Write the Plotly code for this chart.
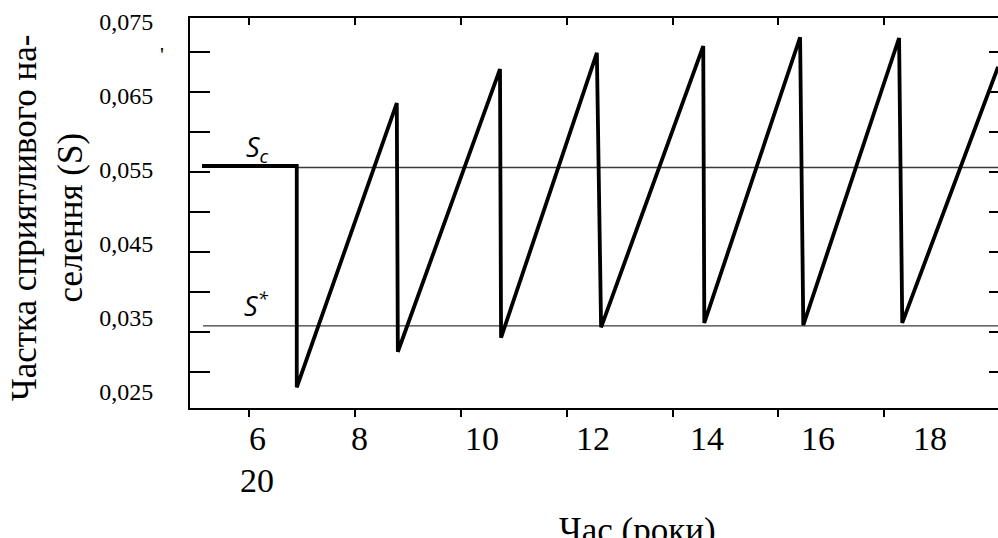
import plotly.graph_objects as go

# ---- data ----
time_years = [5.11, 6.90, 6.90, 8.79, 8.81, 10.74, 10.76, 12.57, 12.65, 14.58, 14.60, 16.41, 16.47, 18.28, 18.34, 20.15]
share_s = [0.0555, 0.0555, 0.0256, 0.0640, 0.0304, 0.0686, 0.0323, 0.0708, 0.0337, 0.0717, 0.0343, 0.0729, 0.0340, 0.0728, 0.0343, 0.0689]

sc_x = [6.90, 20.15]
sc_level = [0.0553, 0.0553]
sstar_x = [5.13, 20.15]
sstar_level = [0.0339, 0.0339]

y_tick_vals = [0.025, 0.035, 0.045, 0.055, 0.065, 0.075]
y_tick_text = ["0,025", "0,035", "0,045", "0,055", "0,065", "0,075"]
x_tick_vals = [6, 8, 10, 12, 14, 16, 18]
x_tick_text = ["6", "8", "10", "12", "14", "16", "18"]
x_label_pos = [6.15, 8.08, 10.40, 12.50, 14.65, 16.75, 18.87]

X_RANGE = [4.883, 20.149]
Y_RANGE = [0.0228, 0.0755]
SERIF = "Liberation Serif, Times New Roman, DejaVu Serif, serif"

fig = go.Figure()
fig.add_trace(go.Scatter(x=sc_x, y=sc_level, mode="lines",
                         line=dict(color="#3a3a3a", width=1.3), showlegend=False, hoverinfo="skip"))
fig.add_trace(go.Scatter(x=sstar_x, y=sstar_level, mode="lines",
                         line=dict(color="#3a3a3a", width=1.3), showlegend=False, hoverinfo="skip"))
fig.add_trace(go.Scatter(x=time_years, y=share_s, mode="lines",
                         line=dict(color="black", width=3.8), showlegend=False))

annotations = []
for pos, txt in zip(x_label_pos, x_tick_text):
    annotations.append(dict(x=pos, y=(408 - 438) / 390, xref="x", yref="paper", text=txt, showarrow=False,
                            font=dict(family=SERIF, size=34, color="black"),
                            xanchor="center", yanchor="middle"))
annotations.append(dict(x=x_label_pos[0], y=(408 - 480) / 390, xref="x", yref="paper", text="20",
                        showarrow=False, font=dict(family=SERIF, size=34, color="black"),
                        xanchor="center", yanchor="middle"))
annotations.append(dict(x=(637 - 190) / 808, y=(408 - 509) / 390, xref="paper", yref="paper",
                        text="Час (роки)", showarrow=False,
                        font=dict(family=SERIF, size=35, color="black"),
                        xanchor="center", yanchor="top"))
annotations.append(dict(x=(48 - 190) / 808, y=(408 - 218) / 390, xref="paper", yref="paper",
                        text="Частка сприятливого на-<br>селення (S)", textangle=-90, showarrow=False,
                        font=dict(family=SERIF, size=35, color="black"),
                        xanchor="center", yanchor="middle"))
annotations.append(dict(x=(162 - 190) / 808, y=(408 - 54) / 390, xref="paper", yref="paper",
                        text="'", showarrow=False,
                        font=dict(family=SERIF, size=22, color="black"),
                        xanchor="center", yanchor="middle"))
annotations.append(dict(x=6.15, y=0.0555, xref="x", yref="y", text="<i>S<sub>c</sub></i>",
                        showarrow=False, font=dict(family="Open Sans", size=27, color="black"),
                        xanchor="center", yanchor="bottom", yshift=-5))
annotations.append(dict(x=6.13, y=0.0339, xref="x", yref="y", text="<i>S<sup>*</sup></i>",
                        showarrow=False, font=dict(family="Open Sans", size=27, color="black"),
                        xanchor="center", yanchor="bottom", yshift=0))

fig.update_layout(
    width=998, height=538,
    margin=dict(l=190, r=0, t=18, b=130, autoexpand=False),
    paper_bgcolor="white", plot_bgcolor="white",
    showlegend=False,
    font=dict(family=SERIF),
    xaxis=dict(range=X_RANGE, showgrid=False, zeroline=False, showline=True, linecolor="black",
               linewidth=2, ticks="outside", ticklen=7, tickwidth=2, tickcolor="black",
               tickvals=x_tick_vals, showticklabels=False, automargin=False),
    xaxis2=dict(range=X_RANGE, overlaying="x", side="top", showgrid=False, zeroline=False,
                showline=True, linecolor="black", linewidth=2, ticks="inside", ticklen=7,
                tickwidth=2, tickcolor="black", tickvals=x_tick_vals, showticklabels=False,
                automargin=False),
    yaxis=dict(range=Y_RANGE, showgrid=False, zeroline=False, showline=True, linecolor="black",
               linewidth=2, ticks="", tickvals=y_tick_vals, ticktext=y_tick_text,
               tickfont=dict(family=SERIF, size=24, color="black"), ticklabelstandoff=30,
               automargin=False),
    yaxis2=dict(range=[0, 390], overlaying="y", side="left", showgrid=False, zeroline=False,
                showline=False, ticks="inside", ticklen=20, tickwidth=2, tickcolor="black",
                tick0=36, dtick=40, showticklabels=False, automargin=False),
    yaxis3=dict(range=[0, 390], overlaying="y", side="right", showgrid=False, zeroline=False,
                showline=False, ticks="inside", ticklen=9, tickwidth=2, tickcolor="black",
                tick0=36, dtick=40, showticklabels=False, automargin=False),
    annotations=annotations,
)
fig.add_trace(go.Scatter(x=[None], y=[None], xaxis="x2", yaxis="y2", showlegend=False, hoverinfo="skip"))
fig.add_trace(go.Scatter(x=[None], y=[None], xaxis="x", yaxis="y3", showlegend=False, hoverinfo="skip"))

fig.write_html("out.html", config={"displayModeBar": False},
               post_script="document.body.style.margin='0';document.documentElement.style.overflow='hidden';document.body.style.overflow='hidden';")
